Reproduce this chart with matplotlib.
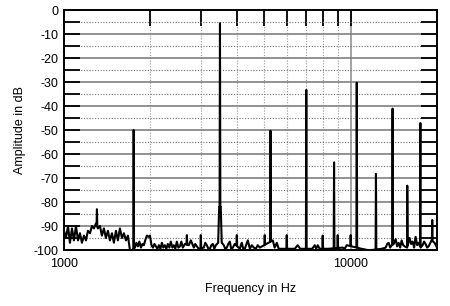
import numpy as np
import matplotlib
matplotlib.use("Agg")
from matplotlib import pyplot as plt
from matplotlib.ticker import FixedLocator, NullFormatter

plt.rcParams['font.family'] = ['Liberation Sans', 'DejaVu Sans']
plt.rcParams['axes.unicode_minus'] = False

# harmonic peaks (Hz, dB)
harm_freq = [1750, 3500, 5250, 7000, 8750, 10500, 12250, 14000, 15750, 17500, 19250]
harm_db = [-50.0, -5.5, -50.3, -33.3, -63.5, -30.3, -68.3, -41.1, -73.2, -47.1, -87.5]

# narrow spurs on the noise floor
spur_freq = [1303, 2683, 3001, 4007, 5014, 5984, 7988, 9012, 10000]
spur_db = [-83.0, -93.8, -93.8, -93.8, -93.8, -93.8, -94.0, -93.8, -93.8]

# noise floor
noise_freq = [1000, 1016, 1033, 1049, 1066, 1083, 1101, 1119, 1137, 1155, 1174, 1193,
              1212, 1232, 1252, 1272, 1292, 1313, 1335, 1356, 1378, 1400, 1423, 1446,
              1470, 1493, 1518, 1542, 1567, 1593, 1618, 1645, 1671, 1698, 1726,
              1767, 1790, 1810, 1832, 1855, 1878, 1900, 1920, 1946, 1970, 1994, 2020,
              2043, 2068, 2092, 2118, 2143, 2170, 2195, 2220, 2248, 2275, 2303, 2330,
              2359, 2388, 2416, 2445, 2475, 2505, 2536, 2566, 2597, 2640, 2726, 2770,
              2838, 2870, 2907, 2950, 3074, 3110, 3149, 3190, 3226, 3265, 3305, 3345,
              3385, 3450, 3478, 3522, 3550, 3610, 3650, 3699, 3740, 3788, 3830, 3880,
              3940, 4105, 4140, 4171, 4220, 4272, 4330, 4377, 4450, 4520, 4590, 4667,
              4740, 4819, 5349, 5430, 5523, 5610, 5703, 6229, 6380, 6536, 6670, 6805,
              7196, 7340, 7491, 7580, 7673, 7800, 8316, 9378, 9530, 9685, 10921, 11461,
              11834, 12825, 13243, 13400, 13564, 13730, 13898, 14120, 14352, 14520,
              14700, 14880, 15057, 15240, 15423, 15740, 16054, 16250, 16444, 16640,
              16844, 17050, 17253, 17530, 17817, 18030, 18250, 18470, 18694, 19150,
              19622, 20000]
noise_db = [-92, -95, -90, -97, -91, -96, -90, -96, -93, -97, -94, -96,
            -92, -93, -90, -91, -89, -91, -90, -94, -91, -95, -92, -96,
            -93, -97, -92, -96, -91, -95, -93, -96, -94, -100, -100,
            -99, -97, -98.5, -96.5, -99, -97.5, -98, -96, -94, -94.5, -94, -98,
            -99, -97.5, -98.5, -99.5, -98, -99.5, -97, -99, -98, -99.5, -97.5, -99,
            -96.5, -99, -98, -99.5, -96.5, -99, -98.5, -96.5, -99, -97.5, -98, -96,
            -99, -97.5, -98.5, -99.5, -99, -97, -98, -99.5, -99.5, -98, -97.5, -99.5,
            -98, -97, -82, -82, -97, -98, -99.5, -99, -97.5, -96.5, -99.5, -99,
            -97.5, -99.5, -98, -97, -99.5, -99.5, -97.5, -96, -99.5, -98, -99, -99.5,
            -98, -99, -96, -99, -97, -99.5, -99.5, -99.5, -99.5, -98, -99.5, -99.5,
            -99.5, -99.5, -98, -99.5, -98, -99.5, -99.5, -99, -99.5, -98, -99.5, -100,
            -100, -99.5, -99, -97.5, -97, -99, -98, -97.5, -95.5, -98.5,
            -97, -99, -96, -98, -98.5, -99, -95, -97.5, -96.5, -99,
            -94.5, -98, -97, -99, -98, -96.5, -97.5, -99, -98.5, -96,
            -97, -99]

x_ticks = [1000, 10000]
x_minor = [2000, 3000, 4000, 5000, 6000, 7000, 8000, 9000, 20000]

# merge floor, spurs and peaks into one trace; spike bases sit on the local floor
f = list(noise_freq)
a = list(noise_db)
log_nf = np.log10(noise_freq)
for fr, db in zip(harm_freq + spur_freq, harm_db + spur_db):
    lo = float(np.interp(np.log10(fr * 0.997), log_nf, noise_db))
    hi = float(np.interp(np.log10(fr * 1.003), log_nf, noise_db))
    f += [fr * 0.997, fr, fr * 1.003]
    a += [lo, db, hi]
order = np.argsort(f)
f = np.array(f)[order]
a = np.array(a)[order]

fig = plt.figure(figsize=(4.5, 3.06), dpi=100)
ax = fig.add_axes([0.1422, 0.183, 0.8289, 0.7843])

ax.plot(f, a, color='black', lw=1.5, zorder=3)

ax.set_xscale('log')
ax.set_xlim(1000, 20000)
ax.set_ylim(-100, 0)

ax.xaxis.set_major_locator(FixedLocator(x_ticks))
ax.xaxis.set_minor_locator(FixedLocator(x_minor))
ax.xaxis.set_major_formatter(plt.FixedFormatter(['1000', '10000']))
ax.xaxis.set_minor_formatter(NullFormatter())
ax.yaxis.set_major_locator(FixedLocator(range(-100, 1, 10)))
ax.yaxis.set_minor_locator(FixedLocator(range(-95, 0, 10)))

ax.tick_params(which='both', direction='in', length=11.5, width=1.3, color='black',
               left=True, right=True, top=True, bottom=False, labelsize=9)
ax.tick_params(axis='x', pad=6)
ax.tick_params(axis='y', pad=4)

ax.grid(which='major', axis='y', color='#7f7f7f', lw=1.2, ls='-', zorder=1)
ax.grid(which='minor', axis='y', color='#6f6f6f', lw=0.8, ls=(0, (1, 1.5)), zorder=1)
ax.grid(which='minor', axis='x', color='#999999', lw=0.8, ls=(0, (1, 1.5)), zorder=1)
ax.grid(which='major', axis='x', color='#8a8a8a', lw=1.1, ls='-', zorder=1)

for s in ax.spines.values():
    s.set_linewidth(1.4)

ax.set_xlabel('Frequency in Hz', fontsize=9, labelpad=9)
ax.set_ylabel('Amplitude in dB', fontsize=9, labelpad=5)

fig.savefig('out.png', dpi=100)
